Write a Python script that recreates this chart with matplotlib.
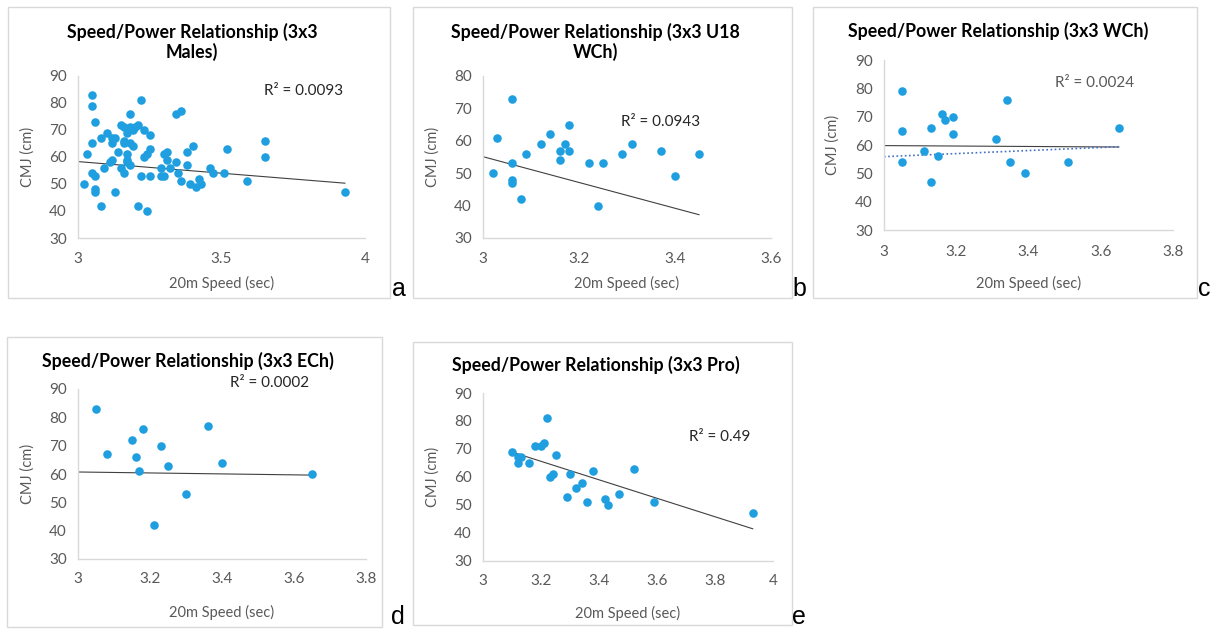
import matplotlib
matplotlib.use("Agg")
import matplotlib.pyplot as plt
from matplotlib.patches import Rectangle
import numpy as np

# Data (20m speed in sec, CMJ in cm)
a_speed = [3.02, 3.03, 3.05, 3.05, 3.06, 3.05, 3.05, 3.06, 3.06, 3.06, 3.08, 3.08, 3.09,
           3.10, 3.11, 3.12, 3.12, 3.12, 3.13, 3.13, 3.14, 3.15, 3.15, 3.16, 3.16, 3.16,
           3.16, 3.17, 3.17, 3.17, 3.17, 3.18, 3.18, 3.18, 3.18, 3.19, 3.19, 3.20, 3.21,
           3.21, 3.22, 3.22, 3.23, 3.23, 3.24, 3.24, 3.25, 3.25, 3.25, 3.29, 3.29, 3.30,
           3.30, 3.31, 3.31, 3.32, 3.34, 3.34, 3.35, 3.36, 3.36, 3.38, 3.38, 3.39, 3.40,
           3.41, 3.42, 3.43, 3.46, 3.47, 3.51, 3.52, 3.59, 3.65, 3.65, 3.93]
a_cmj = [50, 61, 83, 79, 73, 65, 54, 53, 48, 47, 42, 67, 56,
         69, 58, 59, 67, 65, 67, 47, 62, 72, 56, 54, 71, 66,
         65, 69, 61, 59, 58, 76, 71, 65, 57, 64, 70, 71, 72,
         42, 81, 53, 70, 60, 40, 61, 68, 63, 53, 56, 53, 61,
         53, 62, 59, 56, 76, 58, 54, 77, 51, 62, 57, 50, 64,
         49, 52, 50, 56, 54, 54, 63, 51, 66, 60, 47]

b_speed = [3.02, 3.03, 3.06, 3.06, 3.06, 3.06, 3.08, 3.09, 3.12, 3.14, 3.16, 3.16,
           3.17, 3.18, 3.18, 3.22, 3.24, 3.25, 3.29, 3.31, 3.37, 3.40, 3.45]
b_cmj = [50, 61, 73, 53, 48, 47, 42, 56, 59, 62, 57, 54,
         59, 65, 57, 53, 40, 53, 56, 59, 57, 49, 56]

c_speed = [3.05, 3.05, 3.05, 3.11, 3.13, 3.13, 3.15, 3.16, 3.17, 3.19, 3.19,
           3.31, 3.34, 3.35, 3.39, 3.51, 3.65]
c_cmj = [79, 65, 54, 58, 66, 47, 56, 71, 69, 70, 64,
         62, 76, 54, 50, 54, 66]

d_speed = [3.05, 3.08, 3.15, 3.16, 3.17, 3.18, 3.21, 3.23, 3.25, 3.30, 3.36, 3.40, 3.65]
d_cmj = [83, 67, 72, 66, 61, 76, 42, 70, 63, 53, 77, 64, 60]

e_speed = [3.10, 3.12, 3.12, 3.13, 3.16, 3.18, 3.20, 3.21, 3.22, 3.23, 3.24, 3.25,
           3.29, 3.30, 3.32, 3.34, 3.36, 3.38, 3.42, 3.43, 3.47, 3.52, 3.59, 3.93]
e_cmj = [69, 67, 65, 67, 65, 71, 71, 72, 81, 60, 61, 68,
         53, 61, 56, 58, 51, 62, 52, 50, 54, 63, 51, 47]

# Trend lines as drawn in the original (slope, intercept, x from, x to)
a_trend = [-8.6, 84.1, 3.0, 3.93]
b_trend = [-39.8, 174.5, 3.0, 3.45]
c_trend = [-0.77, 62.1, 3.0, 3.65]
c_trend_dotted = [5.38, 39.75, 3.0, 3.65]
d_trend = [-1.69, 65.78, 3.0, 3.65]
e_trend = [-33.0, 171.2, 3.10, 3.93]

titles = ["Speed/Power Relationship (3x3\nMales)",
          "Speed/Power Relationship (3x3 U18\nWCh)",
          "Speed/Power Relationship (3x3 WCh)",
          "Speed/Power Relationship (3x3 ECh)",
          "Speed/Power Relationship (3x3 Pro)"]
r2_labels = ["R² = 0.0093", "R² = 0.0943", "R² = 0.0024", "R² = 0.0002", "R² = 0.49"]
letters = ["a", "b", "c", "d", "e"]

W, H = 1212, 631
fig = plt.figure(figsize=(W / 100, H / 100), dpi=100)
fig.patch.set_facecolor("white")

FONT = "Lato"
GRAY = "#595959"
BLUE = "#1f9ee0"

def px_axes(x0, y0, x1, y1):
    return fig.add_axes([x0 / W, 1 - y1 / H, (x1 - x0) / W, (y1 - y0) / H])

def frame(x0, y0, x1, y1):
    fig.add_artist(Rectangle((x0 / W, 1 - y1 / H), (x1 - x0) / W, (y1 - y0) / H,
                             transform=fig.transFigure, fill=False,
                             edgecolor="#d9d9d9", linewidth=1))

def trend(ax, t, **kw):
    xs = np.array([t[2], t[3]])
    ax.plot(xs, t[0] * xs + t[1], **kw)

# frame box, plot box, axis ranges/ticks and text positions in pixels
panels = [
    dict(box=(8, 7, 390, 298), plot=(78, 76, 365, 238), xr=(3, 4), xt=[3, 3.5, 4],
         xtl=["3", "3.5", "4"], yr=(30, 90), yt=range(30, 91, 10),
         data=(a_speed, a_cmj), trends=[a_trend], title_y=42, r2=(304, 91),
         r2c="#262626", letter=(399, 296), ylab_x=28, xlab_y=283, xtick_y=259),
    dict(box=(413, 7, 792, 298), plot=(483, 76, 771, 238), xr=(3, 3.6),
         xt=[3, 3.2, 3.4, 3.6], xtl=["3", "3.2", "3.4", "3.6"], yr=(30, 80),
         yt=range(30, 81, 10), data=(b_speed, b_cmj), trends=[b_trend], title_y=42,
         r2=(661, 122), r2c="#262626", letter=(799, 296), ylab_x=433, xlab_y=283,
         xtick_y=259),
    dict(box=(813, 7, 1197, 298), plot=(884, 60, 1173, 230), xr=(3, 3.8),
         xt=[3, 3.2, 3.4, 3.6, 3.8], xtl=["3", "3.2", "3.4", "3.6", "3.8"],
         yr=(30, 90), yt=range(30, 91, 10), data=(c_speed, c_cmj),
         trends=[c_trend], title_y=31, r2=(1095, 83), r2c=GRAY, letter=(1204, 296),
         ylab_x=833, xlab_y=283, xtick_y=252),
    dict(box=(7, 337, 382, 627), plot=(78, 389, 366, 559), xr=(3, 3.8),
         xt=[3, 3.2, 3.4, 3.6, 3.8], xtl=["3", "3.2", "3.4", "3.6", "3.8"],
         yr=(30, 90), yt=range(30, 91, 10), data=(d_speed, d_cmj), trends=[d_trend],
         title_y=361, r2=(270, 383), r2c="#262626", letter=(398, 624), ylab_x=28,
         xlab_y=612, xtick_y=579),
    dict(box=(413, 342, 792, 625), plot=(483, 393, 773, 561), xr=(3, 4),
         xt=[3, 3.2, 3.4, 3.6, 3.8, 4], xtl=["3", "3.2", "3.4", "3.6", "3.8", "4"],
         yr=(30, 90), yt=range(30, 91, 10), data=(e_speed, e_cmj), trends=[e_trend],
         title_y=365, r2=(720, 437), r2c="#262626", letter=(799, 624), ylab_x=433,
         xlab_y=613, xtick_y=581),
]

for i, p in enumerate(panels):
    frame(*p["box"])
    x0, y0, x1, y1 = p["plot"]
    ax = px_axes(x0, y0, x1, y1)
    ax.set_facecolor("none")
    ax.scatter(p["data"][0], p["data"][1], s=38, color=BLUE, zorder=3, linewidths=0)
    for t in p["trends"]:
        trend(ax, t, color="#404040", linewidth=0.8, zorder=2)
    if i == 2:
        trend(ax, c_trend_dotted, color="#4472c4", linewidth=1.2, linestyle=(0, (1, 1.5)),
              zorder=2)
    ax.set_xlim(*p["xr"])
    ax.set_ylim(*p["yr"])
    ax.set_xticks(p["xt"])
    ax.set_xticklabels([])
    ax.set_yticks(list(p["yt"]))
    ax.set_yticklabels([str(v) for v in p["yt"]], fontsize=11, color=GRAY,
                       fontfamily=FONT)
    ax.tick_params(length=0, pad=8)
    for s in ["top", "right"]:
        ax.spines[s].set_visible(False)
    for s in ["left", "bottom"]:
        ax.spines[s].set_color("#d9d9d9")
        ax.spines[s].set_linewidth(1)
    # x tick labels sit lower than the axis, placed in figure pixels
    for xv, lab in zip(p["xt"], p["xtl"]):
        xp = x0 + (xv - p["xr"][0]) / (p["xr"][1] - p["xr"][0]) * (x1 - x0)
        fig.text(xp / W, 1 - p["xtick_y"] / H, lab, ha="center", va="center",
                 fontsize=11, color=GRAY, fontfamily=FONT)
    bx0, by0, bx1, by1 = p["box"]
    fig.text(((bx0 + bx1) / 2 - 7) / W, 1 - p["title_y"] / H, titles[i], ha="center",
             va="center", fontsize=12.8, fontweight="bold", color="black",
             fontfamily=FONT, linespacing=1.15)
    fig.text(p["r2"][0] / W, 1 - p["r2"][1] / H, r2_labels[i], ha="center",
             va="center", fontsize=11, color=p["r2c"], fontfamily=FONT)
    fig.text(p["ylab_x"] / W, 1 - ((y0 + y1) / 2) / H, "CMJ (cm)", rotation=90,
             ha="center", va="center", fontsize=10.5, color=GRAY, fontfamily=FONT)
    fig.text(((x0 + x1) / 2) / W, 1 - p["xlab_y"] / H, "20m Speed (sec)", ha="center",
             va="center", fontsize=10.5, color=GRAY, fontfamily=FONT)
    fig.text(p["letter"][0] / W, 1 - p["letter"][1] / H, letters[i], ha="center",
             va="baseline", fontsize=18, color="black", fontfamily="Liberation Sans")

fig.savefig("out.png", dpi=100)
